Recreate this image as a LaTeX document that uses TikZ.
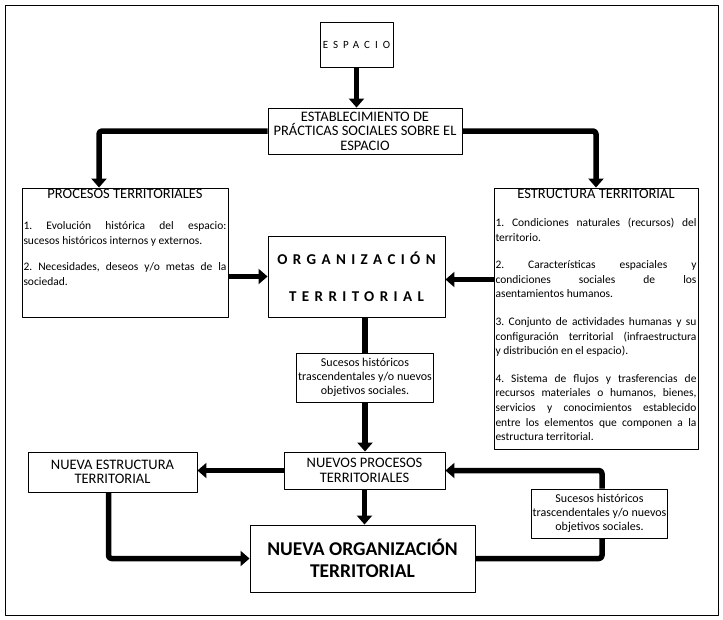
\documentclass[tikz,border=0pt]{standalone}
\usepackage{fontspec}
\setmainfont{Carlito}
\newfontfamily\espaciada[LetterSpace=45]{Carlito}
\newfontfamily\abierta[LetterSpace=36]{Carlito}
\usetikzlibrary{arrows.meta}
\newcommand{\cuerpo}{\fontsize{11.5}{14.6}\selectfont\frenchspacing}
\newcommand{\encabezado}{\fontsize{14.5}{14.5}\selectfont}

\begin{document}
\begin{tikzpicture}[x=1pt, y=-1pt, line join=round,
  caja/.style={draw, line width=0.9pt, inner sep=1.5pt, align=center},
  flecha/.style={line width=5.5pt, rounded corners=3pt, -{Triangle[width=15pt,length=9pt]}},
  enlace/.style={line width=5.5pt, rounded corners=3pt}]
  \useasboundingbox (0,0) rectangle (723,619);
  \draw[line width=1pt] (5,5) rectangle (718,615);

  \node[caja, minimum width=73pt, minimum height=45pt, font=\espaciada\fontsize{11}{12}\selectfont] (espacio) at (356.5,44.5) {ESPACIO};
  \node[caja, minimum width=194pt, minimum height=46pt, font=\encabezado] (establ) at (365,131) {ESTABLECIMIENTO DE\\PRÁCTICAS SOCIALES SOBRE EL\\ESPACIO};

  \node[caja] (procesos) at (125,252.5) {\parbox[c][126pt][t]{203pt}{\cuerpo\setlength{\parskip}{12pt}\hyphenpenalty=10000
    {\centering\encabezado PROCESOS TERRITORIALES\par}\vspace{4pt}
    1. Evolución histórica del espacio:\linebreak sucesos históricos internos y externos.\par
    2. Necesidades, deseos y/o metas de la\linebreak sociedad.}};

  \node[caja] (estructura) at (596,318.5) {\parbox[c][258pt][t]{201pt}{\cuerpo\setlength{\parskip}{13pt}\hyphenpenalty=10000
    {\centering\encabezado ESTRUCTURA TERRITORIAL\par}
    1. Condiciones naturales (recursos) del\linebreak territorio.\par
    2. Características espaciales y\linebreak condiciones sociales de los\linebreak asentamientos humanos.\par
    3. Conjunto de actividades humanas y su\linebreak configuración territorial (infraestructura\linebreak y distribución en el espacio).\par
    4. Sistema de flujos y trasferencias de\linebreak recursos materiales o humanos, bienes,\linebreak servicios y conocimientos establecido\linebreak entre los elementos que componen a la\linebreak estructura territorial.}};

  \node[caja, minimum width=177pt, minimum height=81pt, font=\abierta\bfseries\fontsize{15}{37}\selectfont] (org) at (356.5,276.5) {ORGANIZACIÓN\\TERRITORIAL};
  \node[caja, minimum width=132pt, minimum height=49pt, font=\fontsize{12}{14}\selectfont] (suc1) at (365,377.5) {Sucesos históricos\\trascendentales y/o nuevos\\objetivos sociales.};
  \node[caja, minimum width=161pt, minimum height=37pt, font=\encabezado] (nproc) at (364.5,470.5) {NUEVOS PROCESOS\\TERRITORIALES};
  \node[caja, minimum width=169pt, minimum height=40pt, font=\encabezado] (nestr) at (112.5,472) {NUEVA ESTRUCTURA\\TERRITORIAL};
  \node[caja, minimum width=225pt, minimum height=67pt, font=\bfseries\fontsize{19.5}{22}\selectfont] (norg) at (362.5,558.5) {NUEVA ORGANIZACIÓN\\TERRITORIAL};
  \node[caja, minimum width=135pt, minimum height=49pt, font=\fontsize{12}{14}\selectfont] (suc2) at (599.5,513.5) {Sucesos históricos\\trascendentales y/o nuevos\\objetivos sociales.};

  % conectores
  \draw[flecha] (espacio.south) -- (espacio.south |- establ.north);
  \draw[flecha] (establ.west) -| ([xshift=-26pt]procesos.north);
  \draw[flecha] (establ.east) -| (estructura.north);
  \draw[flecha] (procesos.east |- org.west) -- (org.west);
  \draw[flecha] ([yshift=-3pt]estructura.west |- org.east) -- ([yshift=-3pt]org.east);
  \draw[enlace] (suc1.north |- org.south) -- (suc1.north);
  \draw[flecha] (suc1.south) -- (suc1.south |- nproc.north);
  \draw[flecha] (nproc.west) -- (nproc.west -| nestr.east);
  \draw[flecha] ([xshift=-4pt]nestr.south) |- (norg.west);
  \draw[flecha] (nproc.south) -- (nproc.south |- norg.north);
  \draw[enlace] (norg.east) -| ([xshift=2.5pt]suc2.south);
  \draw[flecha] ([xshift=2.5pt]suc2.north) |- (nproc.east);
\end{tikzpicture}
\end{document}
